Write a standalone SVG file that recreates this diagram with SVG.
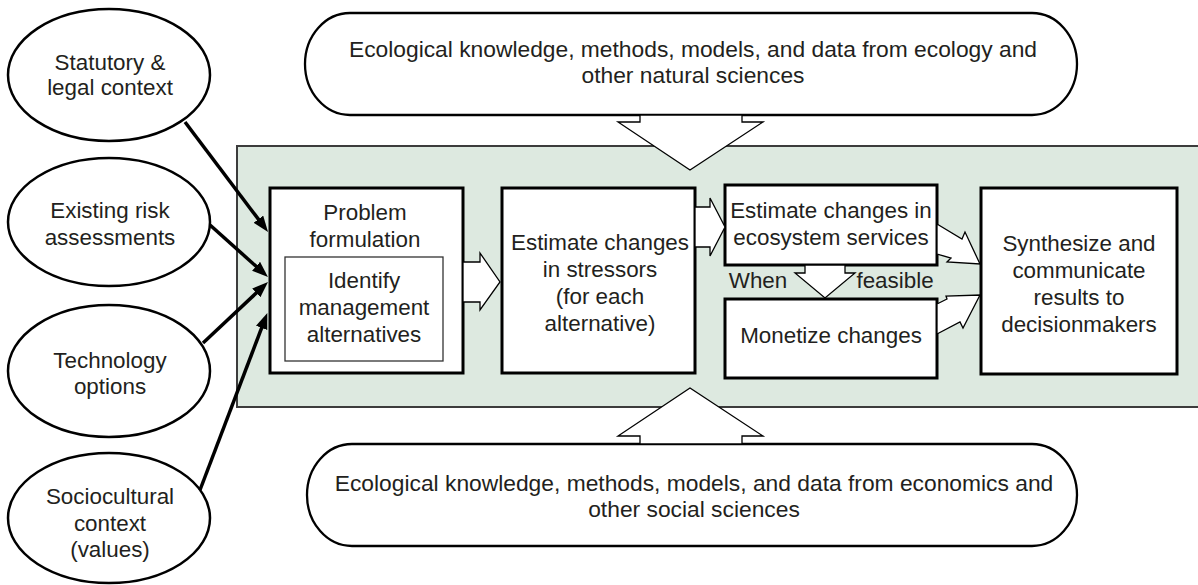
<svg xmlns="http://www.w3.org/2000/svg" width="1198" height="585" viewBox="0 0 1198 585">
  <defs>
    <marker id="head" markerUnits="userSpaceOnUse" markerWidth="18" markerHeight="14" refX="3" refY="6" orient="auto">
      <path d="M0,0 L16,6 L0,12 Z" fill="#000"/>
    </marker>
    <style>
      text { font-family: "Liberation Sans", Arial, sans-serif; font-size: 22.4px; fill: #231f20; text-anchor: middle; }
      .wide { font-size: 22.8px; }
      .ell { fill: #fff; stroke: #000; stroke-width: 2.5; }
      .box { fill: #fff; stroke: #000; stroke-width: 3; }
      .inner { fill: #fff; stroke: #333; stroke-width: 1.3; }
      .pill { fill: #fff; stroke: #000; stroke-width: 2.3; }
      .block { fill: #fff; stroke: #000; stroke-width: 1.3; stroke-linejoin: miter; }
      .wire { stroke: #000; stroke-width: 3.5; fill: none; marker-end: url(#head); }
    </style>
  </defs>

  <rect width="1198" height="585" fill="#fff"/>

  <!-- shaded assessment panel -->
  <rect id="panel" x="237" y="146" width="962" height="261" fill="#dde9e0" stroke="#3c3c3c" stroke-width="2"/>

  <!-- knowledge sources -->
  <g id="natural-sciences">
    <path class="pill" d="M350,13 H1032 A45,51 0 0 1 1032,115 H350 A45,51 0 0 1 350,13 Z"/>
    <text class="wide" x="693" y="57">Ecological knowledge, methods, models, and data from ecology and</text>
    <text class="wide" x="693" y="83">other natural sciences</text>
  </g>
  <g id="social-sciences">
    <path class="pill" d="M352,444 H1032 A45,51 0 0 1 1032,546 H352 A45,51 0 0 1 352,444 Z"/>
    <text class="wide" x="694" y="491">Ecological knowledge, methods, models, and data from economics and</text>
    <text class="wide" x="694" y="517">other social sciences</text>
  </g>

  <!-- context inputs -->
  <g id="statutory">
    <ellipse class="ell" cx="109" cy="75" rx="101" ry="66"/>
    <text x="110" y="70">Statutory &amp;</text>
    <text x="110" y="95">legal context</text>
  </g>
  <g id="existing-risk">
    <ellipse class="ell" cx="109" cy="222" rx="101" ry="64"/>
    <text x="110" y="218">Existing risk</text>
    <text x="110" y="245">assessments</text>
  </g>
  <g id="technology">
    <ellipse class="ell" cx="109" cy="371" rx="101" ry="66"/>
    <text x="110" y="368">Technology</text>
    <text x="110" y="394">options</text>
  </g>
  <g id="sociocultural">
    <ellipse class="ell" cx="109" cy="518" rx="101" ry="65"/>
    <text x="110" y="504">Sociocultural</text>
    <text x="110" y="531">context</text>
    <text x="110" y="557">(values)</text>
  </g>

  <!-- process steps -->
  <g id="problem-formulation">
    <rect class="box" x="270" y="188" width="193" height="185"/>
    <text x="365" y="220">Problem</text>
    <text x="365" y="247">formulation</text>
    <rect class="inner" x="285" y="257" width="158" height="104"/>
    <text x="364" y="288">Identify</text>
    <text x="364" y="315">management</text>
    <text x="364" y="342">alternatives</text>
  </g>
  <g id="stressors">
    <rect class="box" x="502" y="188" width="193" height="185"/>
    <text x="600" y="250">Estimate changes</text>
    <text x="600" y="277">in stressors</text>
    <text x="600" y="304">(for each</text>
    <text x="600" y="331">alternative)</text>
  </g>
  <g id="ecosystem-services">
    <rect class="box" x="725" y="185" width="212" height="80"/>
    <text x="831" y="218">Estimate changes in</text>
    <text x="831" y="245">ecosystem services</text>
  </g>
  <g id="monetize">
    <rect class="box" x="725" y="299" width="212" height="79"/>
    <text x="831" y="343">Monetize changes</text>
  </g>
  <g id="synthesize">
    <rect class="box" x="981" y="188" width="196" height="186"/>
    <text x="1079" y="251">Synthesize and</text>
    <text x="1079" y="278">communicate</text>
    <text x="1079" y="305">results to</text>
    <text x="1079" y="332">decisionmakers</text>
  </g>

  <!-- connectors -->
  <g id="connectors">
    <polygon class="block" points="640,115 640,122 618,122 690,170 763,122 742,122 742,115"/>
    <polygon class="block" points="640,444 640,436 618,436 690,388 763,436 742,436 742,444"/>
    <polygon class="block" points="463,262 480,262 480,253 500,282 480,310 480,302 463,302"/>
    <polygon class="block" points="695,207 710,207 710,198 725,227 710,256 710,247 695,247"/>
    <polygon class="block" points="805,265 805,273 795,273 825,298 855,273 845,273 845,265"/>
    <polygon class="block" points="937,224 962,239 965,232 980,264 947,262 951,258 937,254"/>
    <polygon class="block" points="937,304 947,299 946,296 980,295 963,328 960,322 937,334"/>
    <text x="758" y="288">When</text>
    <text x="895" y="288">feasible</text>

    <line class="wire" x1="185" y1="122" x2="260.2" y2="221.6"/>
    <line class="wire" x1="210" y1="225" x2="258.3" y2="268.3"/>
    <line class="wire" x1="203" y1="343" x2="258.5" y2="290.9"/>
    <line class="wire" x1="200" y1="490" x2="262.7" y2="325.1"/>
  </g>
</svg>
